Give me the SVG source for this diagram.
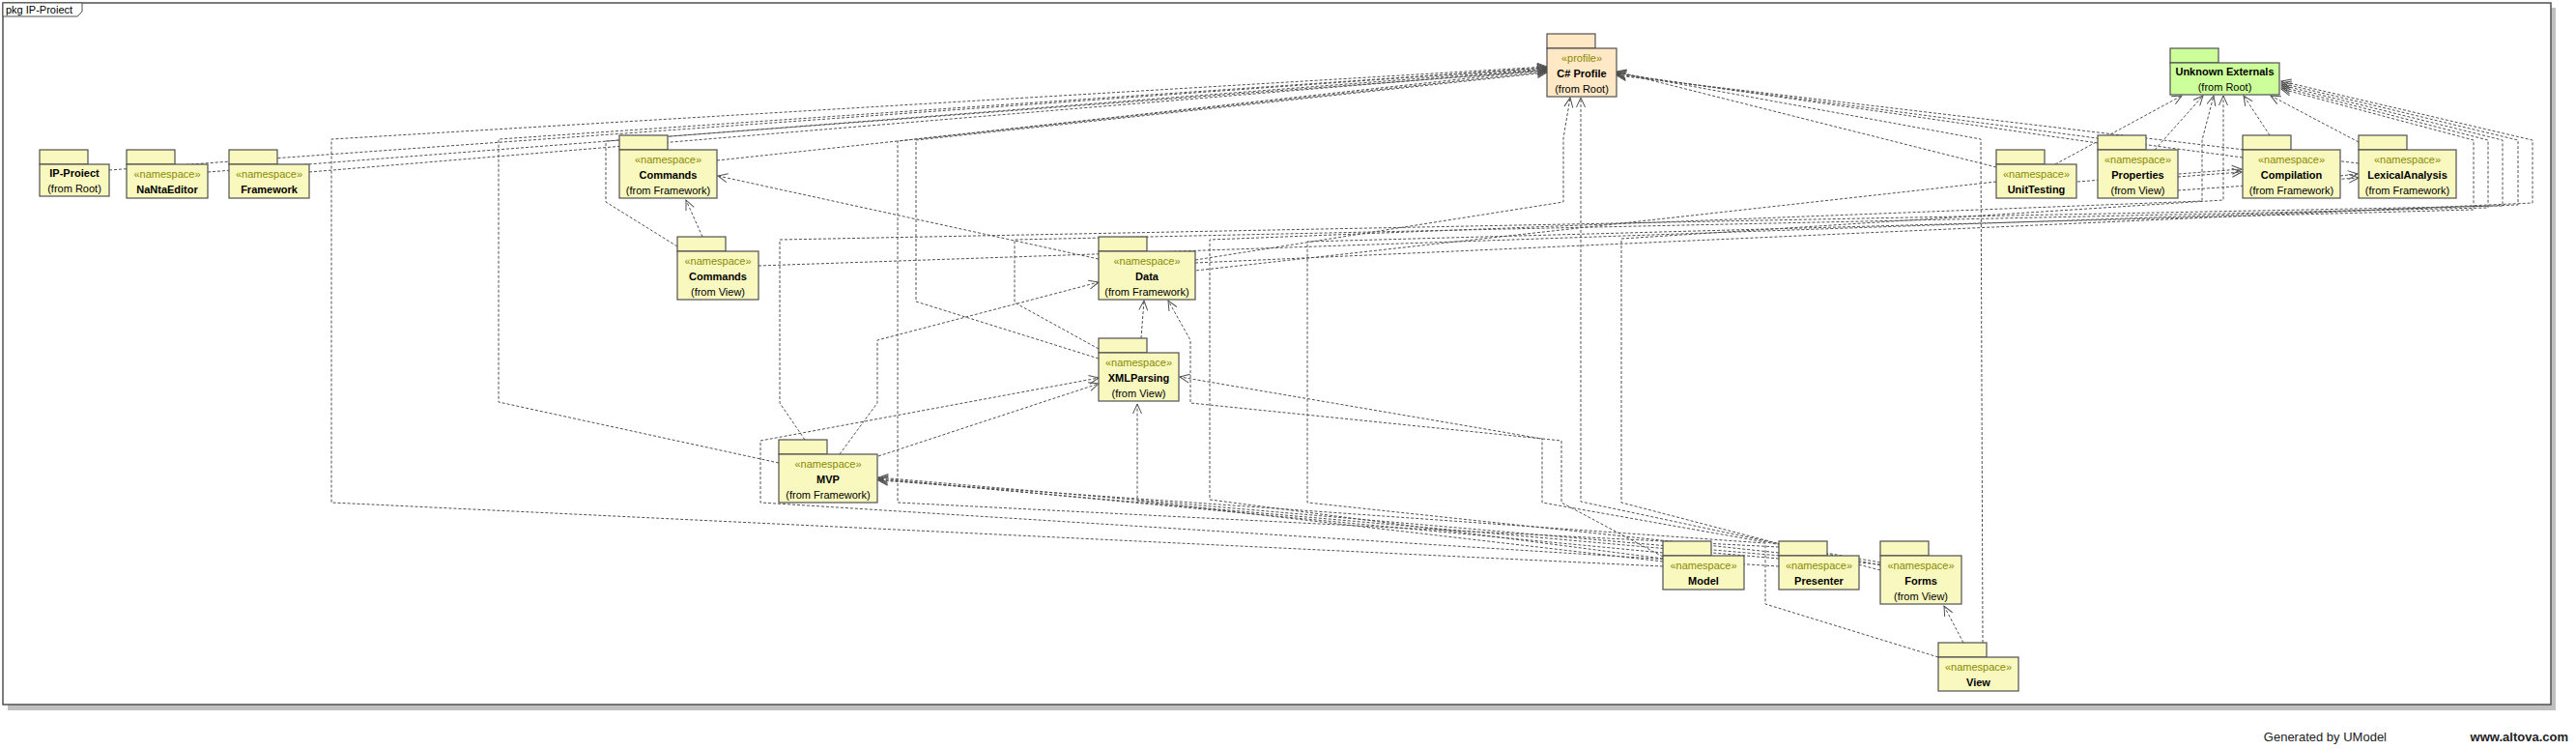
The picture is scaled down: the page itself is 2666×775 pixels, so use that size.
<svg xmlns="http://www.w3.org/2000/svg" width="2666" height="775" viewBox="0 0 2666 775">
<defs>
<marker id="arr" markerWidth="14" markerHeight="12" refX="11" refY="6" orient="auto" markerUnits="userSpaceOnUse">
<path d="M1,1.5 L11,6 L1,10.5" fill="none" stroke="#505050" stroke-width="1" stroke-dasharray="none"/>
</marker>
<style>
text{font-family:"Liberation Sans",Arial,sans-serif;font-size:11px;text-anchor:middle;fill:#000}
.pk rect{fill:#F8F8BF;stroke:#505050;stroke-width:1.2}
.pf rect{fill:#FFE8C6;stroke:#505050;stroke-width:1.2}
.ue rect{fill:#CCFF99;stroke:#505050;stroke-width:1.2}
.st{fill:#8A8A00}
.nm{font-weight:bold}
#conn path{fill:none;stroke:#505050;stroke-width:1;stroke-dasharray:3 2;marker-end:url(#arr)}
#conn path.nom{marker-end:none}
</style>
</defs>
<rect x="0" y="0" width="2666" height="775" fill="#fff"/>
<g id="frame">
<rect x="8" y="8" width="2637" height="727" fill="#C0C0C0"/>
<rect x="3" y="3" width="2637" height="726" fill="#fff" stroke="#505050" stroke-width="1.5"/>
<path d="M3,3 L85,3 L85,12 L80,17 L3,17 Z" fill="#fff" stroke="#505050" stroke-width="1"/>
<text x="6" y="14" style="text-anchor:start">pkg IP-Proiect</text>
</g>
<g id="conn">
<path d="M113,176 L1601,70"/>
<path d="M215,178 L1601,71"/>
<path d="M320,178 L1601,72"/>
<path d="M742,166 L1601,74"/>
<path d="M701,255 L627,209 L627,146 L1601,73"/>
<path d="M1721,586 L343,520 L343,144 L1601,69"/>
<path d="M806,479 L516,416 L516,144 L1601,70"/>
<path d="M1137,371 L948,312 L948,145 L1601,75"/>
<path d="M1841,566 L929,520 L929,146 L1601,72"/>
<path d="M1237,269 L1618,209 L1618,143 L1625,101"/>
<path d="M1946,585 L1636,519 L1636,101"/>
<path d="M2066,173 L1673,74"/>
<path d="M2052,665 L2050,144 L1673,75"/>
<path d="M2171,148 L1673,76"/>
<path d="M2321,163 L1673,77"/>
<path d="M2441,169 L1673,78"/>
<path d="M2127,170 L2258,99"/>
<path d="M2230,155 L2280,99"/>
<path d="M2349,140 L2322,99"/>
<path d="M2441,147 L2350,99"/>
<path d="M1721,578 L1252,517 L1252,248 L2279,208 L2279,145 L2291,99"/>
<path d="M1946,590 L1678,520 L1678,247 L2301,207 L2301,99"/>
<path d="M1237,272 L2621,210 L2621,145 L2361,84"/>
<path d="M785,275 L2606,212 L2606,145 L2361,86"/>
<path d="M833,455 L807,417 L807,248 L2590,213 L2590,145 L2361,88"/>
<path d="M1137,361 L1050,313 L1050,248 L2575,215 L2575,145 L2361,90"/>
<path d="M1841,572 L1353,520 L1353,250 L2560,217 L2560,145 L2361,92"/>
<path d="M727,245 L710,207"/>
<path d="M1137,268 L743,182"/>
<path d="M869,470 L908,417 L908,352 L1137,292"/>
<path d="M1181,350 L1184,311"/>
<path d="M1721,576 L1616,520 L1616,456 L1232,417 L1232,352 L1209,311"/>
<path d="M909,472 L1137,397"/>
<path d="M1841,586 L787,520 L787,456 L1137,391"/>
<path d="M1946,582 L1596,520 L1596,454 L1221,390"/>
<path d="M1721,581 L1177,518 L1177,418"/>
<path d="M1721,572 L909,495"/>
<path d="M1841,578 L909,496"/>
<path d="M1946,584 L909,494"/>
<path d="M2006,680 L1827,625 L1827,562 L909,497"/>
<path d="M2032,665 L2012,627"/>
<path d="M2150,188 L2320,175"/>
<path d="M2254,183 L2320,178"/>
<path d="M2422,182 L2440,180"/>
<path d="M2254,197 L2441,184"/>
<path class="nom" d="M2066,188 L1237,280"/>
</g>
<g id="n-ip-proiect" class="pk"><rect x="41" y="155" width="50" height="15"/><rect x="41" y="170" width="72" height="33"/><text class="nm" x="77" y="183">IP-Proiect</text><text x="77" y="199">(from Root)</text></g>
<g id="n-nantaeditor" class="pk"><rect x="131" y="155" width="50" height="15"/><rect x="131" y="170" width="84" height="35"/><text class="st" x="173" y="183.5">«namespace»</text><text class="nm" x="173" y="200">NaNtaEditor</text></g>
<g id="n-framework" class="pk"><rect x="237" y="155" width="50" height="15"/><rect x="237" y="170" width="83" height="35"/><text class="st" x="278.5" y="183.5">«namespace»</text><text class="nm" x="278.5" y="200">Framework</text></g>
<g id="n-commands-framework" class="pk"><rect x="641" y="140" width="50" height="15"/><rect x="641" y="155" width="101" height="50"/><text class="st" x="691.5" y="168.5">«namespace»</text><text class="nm" x="691.5" y="185">Commands</text><text x="691.5" y="201">(from Framework)</text></g>
<g id="n-commands-view" class="pk"><rect x="701" y="245" width="50" height="15"/><rect x="701" y="260" width="84" height="50"/><text class="st" x="743" y="273.5">«namespace»</text><text class="nm" x="743" y="290">Commands</text><text x="743" y="306">(from View)</text></g>
<g id="n-data" class="pk"><rect x="1137" y="245" width="50" height="15"/><rect x="1137" y="260" width="100" height="50"/><text class="st" x="1187" y="273.5">«namespace»</text><text class="nm" x="1187" y="290">Data</text><text x="1187" y="306">(from Framework)</text></g>
<g id="n-xmlparsing" class="pk"><rect x="1137" y="350" width="50" height="15"/><rect x="1137" y="365" width="83" height="50"/><text class="st" x="1178.5" y="378.5">«namespace»</text><text class="nm" x="1178.5" y="395">XMLParsing</text><text x="1178.5" y="411">(from View)</text></g>
<g id="n-mvp" class="pk"><rect x="806" y="455" width="50" height="15"/><rect x="806" y="470" width="102" height="50"/><text class="st" x="857" y="483.5">«namespace»</text><text class="nm" x="857" y="500">MVP</text><text x="857" y="516">(from Framework)</text></g>
<g id="n-csharp-profile" class="pf"><rect x="1601" y="35" width="50" height="15"/><rect x="1601" y="50" width="72" height="50"/><text class="st" x="1637" y="63.5">«profile»</text><text class="nm" x="1637" y="80">C# Profile</text><text x="1637" y="96">(from Root)</text></g>
<g id="n-unknown-externals" class="ue"><rect x="2246" y="50" width="50" height="15"/><rect x="2246" y="65" width="113" height="33"/><text class="nm" x="2302.5" y="78">Unknown Externals</text><text x="2302.5" y="94">(from Root)</text></g>
<g id="n-unittesting" class="pk"><rect x="2066" y="155" width="50" height="15"/><rect x="2066" y="170" width="83" height="35"/><text class="st" x="2107.5" y="183.5">«namespace»</text><text class="nm" x="2107.5" y="200">UnitTesting</text></g>
<g id="n-properties" class="pk"><rect x="2171" y="140" width="50" height="15"/><rect x="2171" y="155" width="83" height="50"/><text class="st" x="2212.5" y="168.5">«namespace»</text><text class="nm" x="2212.5" y="185">Properties</text><text x="2212.5" y="201">(from View)</text></g>
<g id="n-compilation" class="pk"><rect x="2321" y="140" width="50" height="15"/><rect x="2321" y="155" width="101" height="50"/><text class="st" x="2371.5" y="168.5">«namespace»</text><text class="nm" x="2371.5" y="185">Compilation</text><text x="2371.5" y="201">(from Framework)</text></g>
<g id="n-lexicalanalysis" class="pk"><rect x="2441" y="140" width="50" height="15"/><rect x="2441" y="155" width="101" height="50"/><text class="st" x="2491.5" y="168.5">«namespace»</text><text class="nm" x="2491.5" y="185">LexicalAnalysis</text><text x="2491.5" y="201">(from Framework)</text></g>
<g id="n-model" class="pk"><rect x="1721" y="560" width="50" height="15"/><rect x="1721" y="575" width="84" height="35"/><text class="st" x="1763" y="588.5">«namespace»</text><text class="nm" x="1763" y="605">Model</text></g>
<g id="n-presenter" class="pk"><rect x="1841" y="560" width="50" height="15"/><rect x="1841" y="575" width="83" height="35"/><text class="st" x="1882.5" y="588.5">«namespace»</text><text class="nm" x="1882.5" y="605">Presenter</text></g>
<g id="n-forms" class="pk"><rect x="1946" y="560" width="50" height="15"/><rect x="1946" y="575" width="84" height="50"/><text class="st" x="1988" y="588.5">«namespace»</text><text class="nm" x="1988" y="605">Forms</text><text x="1988" y="621">(from View)</text></g>
<g id="n-view" class="pk"><rect x="2006" y="665" width="50" height="15"/><rect x="2006" y="680" width="83" height="35"/><text class="st" x="2047.5" y="693.5">«namespace»</text><text class="nm" x="2047.5" y="710">View</text></g>
<g id="footer">
<text x="2470" y="767" style="text-anchor:end;font-size:13px;fill:#222">Generated by UModel</text>
<text x="2658" y="767" style="text-anchor:end;font-size:13px;font-weight:bold;fill:#222">www.altova.com</text>
</g>
</svg>
